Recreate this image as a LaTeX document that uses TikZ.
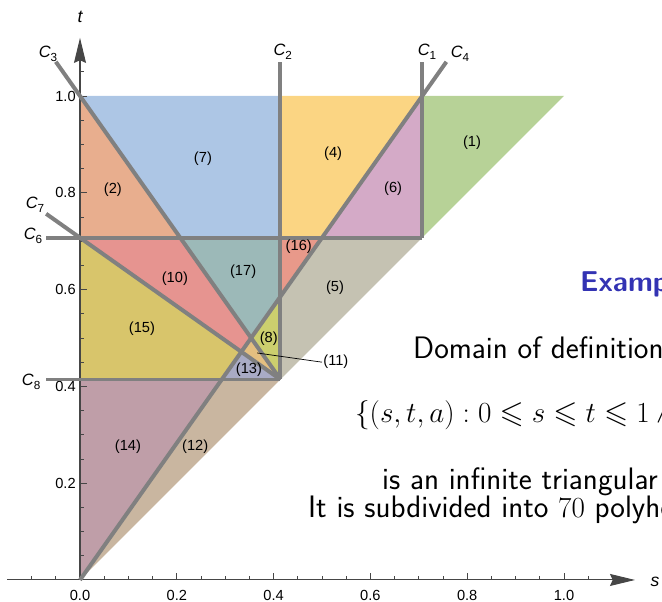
\documentclass[tikz,border=0pt]{standalone}
\usepackage{amssymb}
\usepackage{fontspec}
\usetikzlibrary{arrows.meta}
\newfontfamily\plotfont{Liberation Sans}
\definecolor{linegray}{RGB}{128,128,128}
\definecolor{axisgray}{RGB}{70,70,70}
\definecolor{slideblue}{RGB}{51,51,179}
\definecolor{rone}{RGB}{183,210,151}
\definecolor{rtwo}{RGB}{232,174,142}
\definecolor{rfour}{RGB}{251,213,131}
\definecolor{rfive}{RGB}{197,194,178}
\definecolor{rsix}{RGB}{212,170,199}
\definecolor{rseven}{RGB}{173,198,229}
\definecolor{reight}{RGB}{204,207,110}
\definecolor{rten}{RGB}{230,148,144}
\definecolor{releven}{RGB}{228,191,128}
\definecolor{rtwelve}{RGB}{201,182,160}
\definecolor{rthirteen}{RGB}{169,171,197}
\definecolor{rfourteen}{RGB}{191,158,168}
\definecolor{rfifteen}{RGB}{216,197,107}
\definecolor{rsixteen}{RGB}{232,153,138}
\definecolor{rseventeen}{RGB}{156,185,184}
\newcommand{\curvelab}[1]{{\itshape C}\raisebox{-0.4ex}{\fontsize{10}{12}\selectfont #1}}

\begin{document}
\begin{tikzpicture}[x=14.52cm,y=14.52cm,>=Stealth,
  cline/.style={linegray,line width=3.4pt},
  axis/.style={axisgray,line width=0.9pt},
  tick/.style={axisgray,line width=0.7pt},
  plab/.style={font=\plotfont\fontsize{12.5}{14}\selectfont,inner sep=1pt},
  clab/.style={font=\plotfont\fontsize{14}{16}\selectfont,inner sep=0pt},
  slide/.style={font=\sffamily\fontsize{26.5}{31}\selectfont,anchor=base west,inner sep=0pt}]
\path[use as bounding box] (-0.1653,-0.0455) rectangle (1.2025,1.1983);
\clip (-0.1653,-0.0455) rectangle (1.2025,1.1983);
\fill[rone] (0.70711,0.70711) -- (0.70711,1) -- (1,1) -- cycle;
\fill[rtwo] (0,1) -- (0.20711,0.70711) -- (0,0.70711) -- cycle;
\fill[rfour] (0.41421,0.70711) -- (0.5,0.70711) -- (0.70711,1) -- (0.41421,1) -- cycle;
\fill[rfive] (0.5,0.70711) -- (0.70711,0.70711) -- (0.41421,0.41421) -- (0.41421,0.58579) -- cycle;
\fill[rsix] (0.5,0.70711) -- (0.70711,0.70711) -- (0.70711,1) -- cycle;
\fill[rseven] (0,1) -- (0.41421,1) -- (0.41421,0.70711) -- (0.20711,0.70711) -- cycle;
\fill[reight] (0.35355,0.5) -- (0.41421,0.58579) -- (0.41421,0.41421) -- cycle;
\fill[rten] (0,0.70711) -- (0.20711,0.70711) -- (0.35355,0.5) -- (0.33333,0.4714) -- cycle;
\fill[releven] (0.35355,0.5) -- (0.41421,0.41421) -- (0.33333,0.4714) -- cycle;
\fill[rtwelve] (0,0) -- (0.41421,0.41421) -- (0.29289,0.41421) -- cycle;
\fill[rthirteen] (0.29289,0.41421) -- (0.33333,0.4714) -- (0.41421,0.41421) -- cycle;
\fill[rfourteen] (0,0) -- (0.29289,0.41421) -- (0,0.41421) -- cycle;
\fill[rfifteen] (0,0.70711) -- (0.33333,0.4714) -- (0.29289,0.41421) -- (0,0.41421) -- cycle;
\fill[rsixteen] (0.41421,0.70711) -- (0.5,0.70711) -- (0.41421,0.58579) -- cycle;
\fill[rseventeen] (0.20711,0.70711) -- (0.41421,0.70711) -- (0.41421,0.58579) -- (0.35355,0.5) -- cycle;
\draw[axis,-{Stealth[length=0.75cm,width=0.36cm,inset=0.08cm]}] (-0.15,0) -- (1.1467,0);
\draw[axis,-{Stealth[length=0.75cm,width=0.36cm,inset=0.08cm]}] (0,0) -- (0,1.12);
\foreach \s in {-0.1,-0.05,...,1.06} \draw[tick] (\s,0) -- (\s,0.009);
\foreach \t in {0.05,0.1,...,1.06} \draw[tick] (0,\t) -- (0.009,\t);
\foreach \s/\l in {0/0.0,0.2/0.2,0.4/0.4,0.6/0.6,0.8/0.8,1/1.0} {
  \draw[tick] (\s,0) -- (\s,0.0145);
  \node[plab] (sx\l) at (\s,-0.031) {\l};
}
\foreach \t/\l in {0.2/0.2,0.4/0.4,0.6/0.6,0.8/0.8,1/1.0} {
  \draw[tick] (0,\t) -- (0.0145,\t);
  \node[plab,anchor=east] (ty\l) at (-0.006,\t) {\l};
}
\node[font=\plotfont\itshape\fontsize{15}{17}\selectfont] (tlab) at (0,1.163) {t};
\node[font=\plotfont\itshape\fontsize{15}{17}\selectfont] (slab) at (1.188,-0.004) {s};
\draw[cline] (0.70711,0.70711) -- (0.70711,1.07);
\draw[cline] (0.41421,0.41421) -- (0.41421,1.07);
\draw[cline] (-0.05,1.07071) -- (0.41421,0.41421);
\draw[cline] (0,0) -- (0.757,1.07055);
\draw[cline] (-0.07,0.70711) -- (0.70711,0.70711);
\draw[cline] (-0.07,0.75661) -- (0.41421,0.41421);
\draw[cline] (-0.07,0.41421) -- (0.41421,0.41421);
\node[clab] (c1) at (0.717,1.091) {\curvelab{1}};
\node[clab] (c2) at (0.419,1.091) {\curvelab{2}};
\node[clab] (c3) at (-0.066,1.087) {\curvelab{3}};
\node[clab] (c4) at (0.785,1.087) {\curvelab{4}};
\node[clab] (c6) at (-0.097,0.711) {\curvelab{6}};
\node[clab] (c7) at (-0.093,0.775) {\curvelab{7}};
\node[clab] (c8) at (-0.101,0.409) {\curvelab{8}};
\node[plab] (r1) at (0.810,0.903) {(1)};
\node[plab] (r2) at (0.068,0.806) {(2)};
\node[plab] (r4) at (0.523,0.880) {(4)};
\node[plab] (r5) at (0.527,0.603) {(5)};
\node[plab] (r6) at (0.647,0.808) {(6)};
\node[plab] (r7) at (0.254,0.870) {(7)};
\node[plab] (r8) at (0.390,0.498) {(8)};
\node[plab] (r10) at (0.196,0.622) {(10)};
\node[plab,anchor=west] (r11) at (0.500,0.450) {(11)};
\node[plab] (r12) at (0.238,0.275) {(12)};
\node[plab] (r13) at (0.349,0.434) {(13)};
\node[plab] (r14) at (0.099,0.275) {(14)};
\node[plab] (r15) at (0.128,0.519) {(15)};
\node[plab] (r16) at (0.452,0.688) {(16)};
\node[plab] (r17) at (0.337,0.636) {(17)};
\coordinate (p11) at (0.366,0.469);
\draw[black,line width=0.6pt] (p11) -- (r11.west);
\node[slide,font=\sffamily\bfseries\fontsize{24.5}{28}\selectfont,text=slideblue] (ex) at (1.033,0.595) {Examp};
\node[slide] (dom) at (0.688,0.4566) {Domain of definition};
\node[slide] (set) at (0.568,0.3244) {$\{(s,t,a) : 0 \leqslant s \leqslant t \leqslant 1 \wedge {}$};
\node[slide] (inf) at (0.624,0.186) {is an infinite triangular};
\node[slide] (sub) at (0.471,0.130) {It is subdivided into $70$ polyhe};
\end{tikzpicture}
\end{document}
